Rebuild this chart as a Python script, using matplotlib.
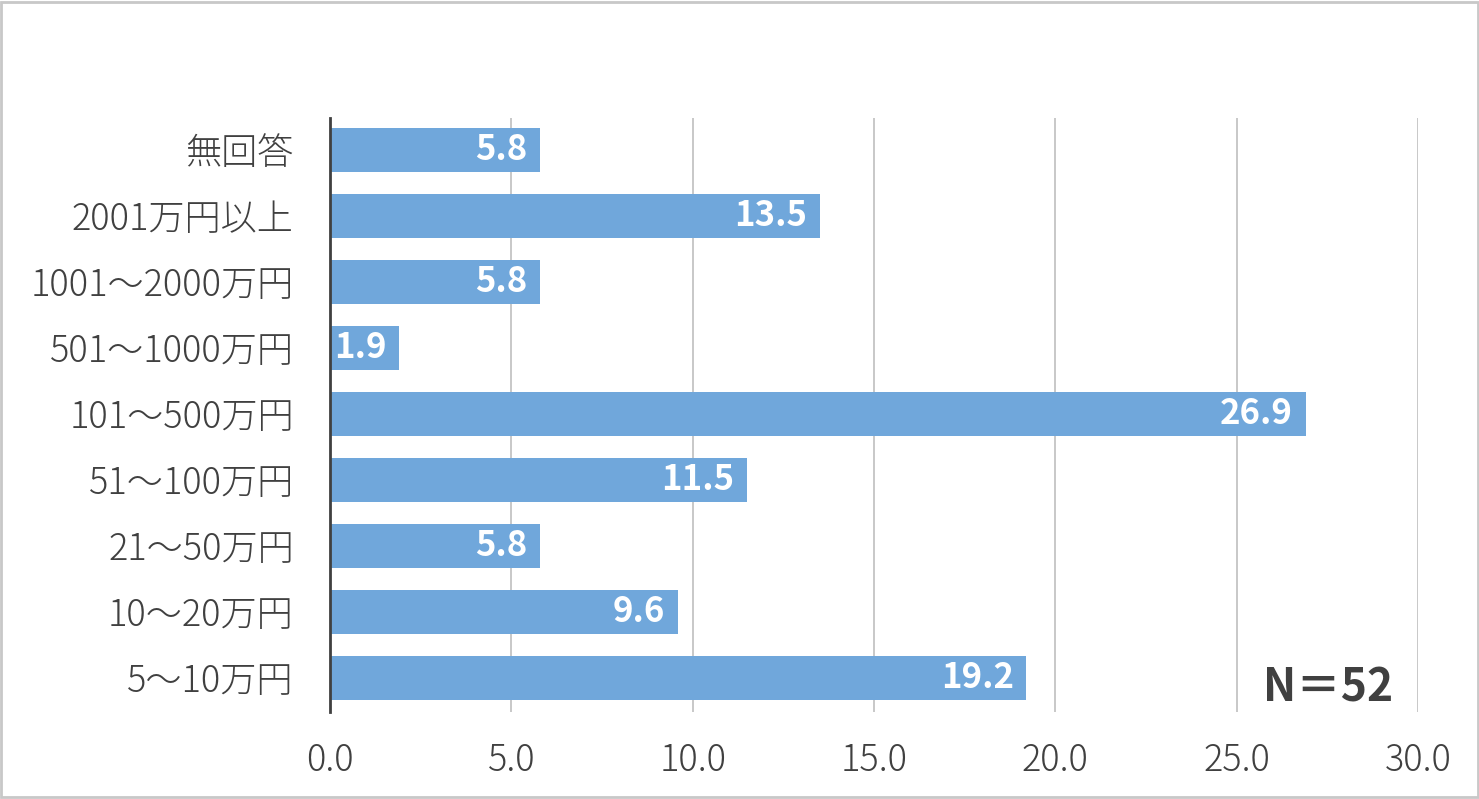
import matplotlib
matplotlib.use("Agg")
import matplotlib.pyplot as plt
from matplotlib.patches import Rectangle

plt.rcParams['font.family'] = ['Noto Sans CJK JP', 'DejaVu Sans']

# categories listed bottom to top
categories = ['5～10万円', '10～20万円', '21～50万円', '51～100万円', '101～500万円',
              '501～1000万円', '1001～2000万円', '2001万円以上', '無回答']
values = [19.2, 9.6, 5.8, 11.5, 26.9, 1.9, 5.8, 13.5, 5.8]
xticks = [0, 5, 10, 15, 20, 25, 30]

bar_color = '#70A7DB'
text_color = '#404040'

fig = plt.figure(figsize=(14.79, 7.99), dpi=100)
ax = fig.add_axes([0.2231, 0.1089, 0.7357, 0.7434])

ypos = list(range(len(categories)))
bars = ax.barh(ypos, values, height=0.67, color=bar_color, zorder=2)

for b, v in zip(bars, values):
    ax.text(v - 0.35, b.get_y() + b.get_height() / 2, f'{v:.1f}',
            ha='right', va='center', color='white', fontsize=25,
            fontweight='bold', zorder=3)

ax.set_xlim(0, 30)
ax.set_ylim(-0.52, 8.48)
ax.set_xticks(xticks)
ax.set_xticklabels([f'{t:.1f}' for t in xticks])
ax.set_yticks(ypos)
ax.set_yticklabels(categories)
ax.tick_params(axis='both', length=0, labelsize=26, colors=text_color)
ax.tick_params(axis='x', pad=21)
ax.tick_params(axis='y', pad=26)
for lab in ax.get_xticklabels() + ax.get_yticklabels():
    lab.set_fontweight('light')

ax.grid(axis='x', color='#c4c4c4', linewidth=1.3, zorder=0)
for s in ['top', 'right', 'bottom']:
    ax.spines[s].set_visible(False)
ax.spines['left'].set_color(text_color)
ax.spines['left'].set_linewidth(2)
ax.spines['left'].set_zorder(4)

ax.text(0.977, 0.04, 'N＝52', transform=ax.transAxes, ha='right', va='center',
        fontsize=32, fontweight='bold', color=text_color)

fig.patches.append(Rectangle((0.001, 0.002), 0.998, 0.996, transform=fig.transFigure,
                             fill=False, edgecolor='#c8c8c8', linewidth=2))

fig.savefig('out.png', dpi=100)
